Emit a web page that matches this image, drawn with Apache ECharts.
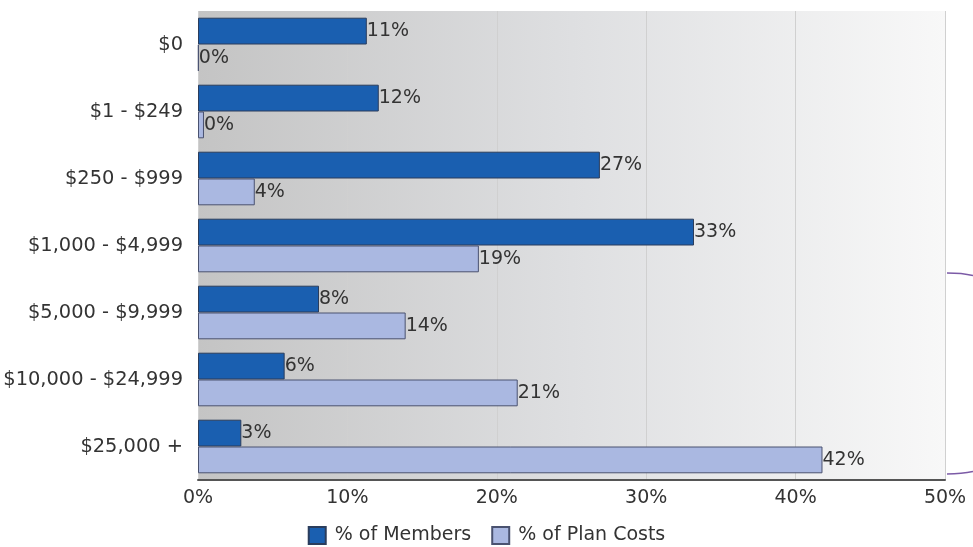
<!DOCTYPE html>
<html><head><meta charset="utf-8">
<script src="https://cdn.jsdelivr.net/npm/echarts@6/dist/echarts.min.js"></script>
<style>html,body{margin:0;padding:0;background:#fff}#c{width:973px;height:547px}</style>
</head><body><div id="c"></div>
<script>
var categories = ['$0', '$1 - $249', '$250 - $999', '$1,000 - $4,999', '$5,000 - $9,999', '$10,000 - $24,999', '$25,000 +'];
var members = [11.3, 12.1, 26.9, 33.2, 8.1, 5.8, 2.9];
var planCosts = [0.05, 0.4, 3.8, 18.8, 13.9, 21.4, 41.8];
var xTicks = [0, 10, 20, 30, 40, 50];

var chart = echarts.init(document.getElementById('c'));
var font = 'DejaVu Sans';
var fs = 19;
var lbl = {show: true, position: 'right', distance: 0, color: '#333', fontFamily: font, fontSize: fs,
  formatter: function (p) { return Math.round(p.value) + '%'; }};
chart.setOption({
  animation: false,
  textStyle: {fontFamily: font},
  grid: {left: 198, right: 28, top: 11, bottom: 67, show: true, borderWidth: 0, outerBoundsMode: 'none',
    backgroundColor: new echarts.graphic.LinearGradient(0, 0, 1, 0, [
      {offset: 0, color: '#c4c4c4'}, {offset: 0.5, color: '#dedfe1'}, {offset: 1, color: '#f8f8f8'}])},
  legend: {bottom: -3, left: 'center', icon: 'rect', itemWidth: 17, itemHeight: 17, itemGap: 20,
    textStyle: {fontFamily: font, fontSize: 19, color: '#333', padding: [0, 0, 0, 4]},
    data: ['% of Members', '% of Plan Costs']},
  xAxis: {type: 'value', min: xTicks[0], max: xTicks[xTicks.length - 1], interval: 10,
    axisLine: {show: true, lineStyle: {color: '#555', width: 2}},
    axisTick: {show: false},
    axisLabel: {formatter: '{value}%', color: '#333', fontFamily: font, fontSize: fs, margin: 9},
    splitLine: {show: true, lineStyle: {color: '#d0d0d0', width: 1}}},
  yAxis: {type: 'category', data: categories, inverse: true,
    axisLine: {show: false}, axisTick: {show: false},
    axisLabel: {color: '#333', fontFamily: font, fontSize: 19.4, margin: 15}},
  series: [
    {name: '% of Members', type: 'bar', data: members, barGap: '0%', barCategoryGap: '20%',
      itemStyle: {color: '#1a5fb0', borderColor: '#2b3d5c', borderWidth: 1}, label: lbl},
    {name: '% of Plan Costs', type: 'bar', data: planCosts,
      itemStyle: {color: '#aab8e1', borderColor: '#4a5270', borderWidth: 1}, label: lbl}
  ],
  graphic: [
    {type: 'bezierCurve', shape: {x1: 947, y1: 273, x2: 973, y2: 275.5, cpx1: 962, cpy1: 273}, style: {stroke: '#7b5aa6', lineWidth: 1.5, fill: null}},
    {type: 'bezierCurve', shape: {x1: 947, y1: 474, x2: 973, y2: 471.5, cpx1: 962, cpy1: 474}, style: {stroke: '#7b5aa6', lineWidth: 1.5, fill: null}}
  ]
});
</script></body></html>
